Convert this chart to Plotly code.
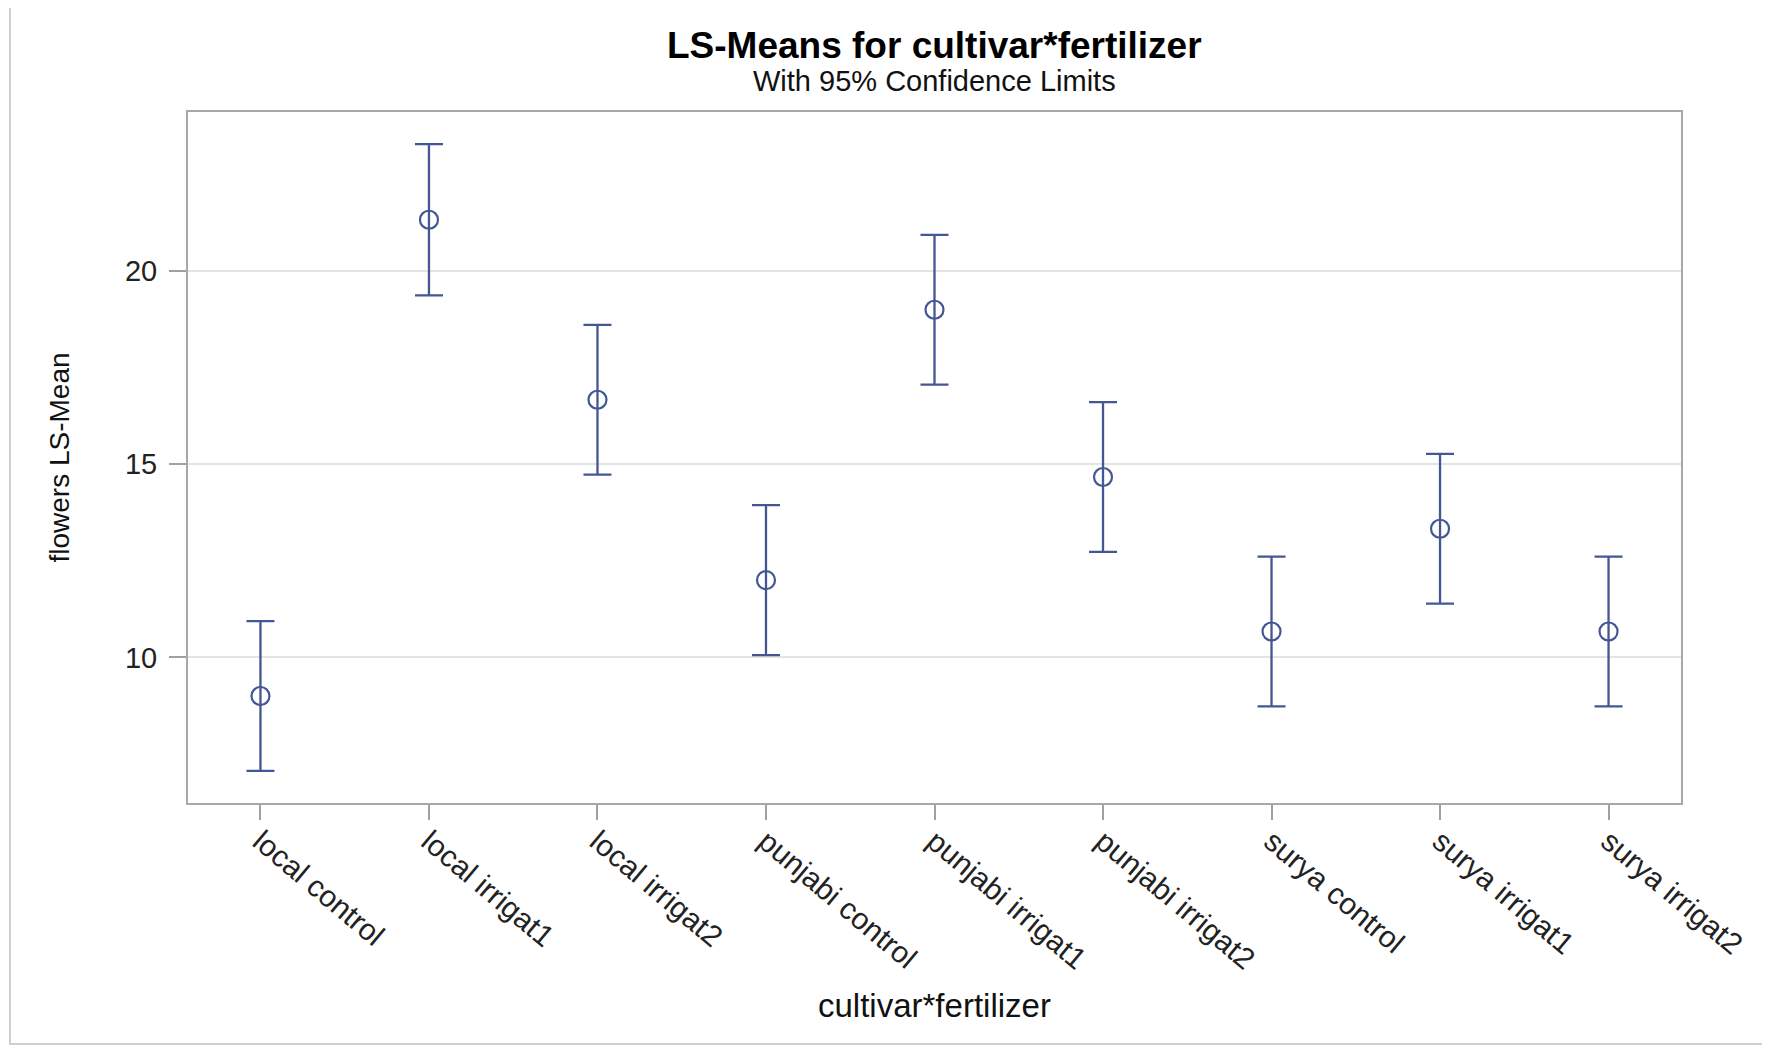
import plotly.graph_objects as go

categories = ["local control", "local irrigat1", "local irrigat2",
              "punjabi control", "punjabi irrigat1", "punjabi irrigat2",
              "surya control", "surya irrigat1", "surya irrigat2"]
ls_means = [9.0, 21.33, 16.67, 12.0, 19.0, 14.67, 10.67, 13.33, 10.67]
lower_cl = [7.06, 19.37, 14.73, 10.06, 17.06, 12.73, 8.73, 11.39, 8.73]
upper_cl = [10.94, 23.29, 18.61, 13.94, 20.94, 16.61, 12.61, 15.27, 12.61]
y_ticks = [10, 15, 20]

BLUE = "#445694"
FONT = "Liberation Sans"

err_plus = [u - m for u, m in zip(upper_cl, ls_means)]
err_minus = [m - l for m, l in zip(ls_means, lower_cl)]

fig = go.Figure()
fig.add_trace(go.Scatter(
    x=list(range(len(categories))), y=ls_means, mode="markers",
    marker=dict(symbol="circle-open", size=18, color=BLUE, line=dict(width=2.2, color=BLUE)),
    error_y=dict(type="data", symmetric=False, array=err_plus, arrayminus=err_minus,
                 color=BLUE, thickness=2.3, width=14),
    showlegend=False,
))

OFF = 8  # page body margin
W, H = 1770, 1047
L, R, T, B = 188 - OFF, 1770 - 1681 + OFF, 112 - OFF, 1047 - 803 + OFF
pw, ph = W - L - R, H - T - B

def px_x(px):
    return (px - OFF - L) / pw

def px_y(py):
    return (H - B - (py - OFF)) / ph

fig.update_layout(
    width=W, height=H,
    margin=dict(l=L, r=R, t=T, b=B, autoexpand=False),
    paper_bgcolor="white", plot_bgcolor="white",
    font=dict(family=FONT, color="#222"),
    xaxis=dict(
        range=[-0.43, 8.43], tickmode="array",
        tickvals=list(range(len(categories))), ticktext=categories,
        tickangle=40, tickfont=dict(size=30, color="#222", family=FONT),
        ticks="outside", ticklen=15, tickcolor="#a0a0a0", tickwidth=1.5,
        showgrid=False, zeroline=False,
        showline=True, linecolor="#a8a8a8", linewidth=2, mirror=True,
        ticklabelstandoff=-8,
    ),
    yaxis=dict(
        range=[6.23, 24.12], tickmode="array", tickvals=y_ticks,
        ticktext=[str(v) for v in y_ticks],
        tickfont=dict(size=29, color="#222", family=FONT),
        ticks="outside", ticklen=17, tickcolor="#a0a0a0", tickwidth=1.5,
        showgrid=True, gridcolor="#e4e4e4", gridwidth=1.5, zeroline=False,
        showline=True, linecolor="#a8a8a8", linewidth=2, mirror=True,
        ticklabelstandoff=6,
    ),
    annotations=[
        dict(text="<b>LS-Means for cultivar*fertilizer</b>", xref="paper", yref="paper",
             x=0.5, y=px_y(46), xanchor="center", yanchor="middle", showarrow=False,
             font=dict(size=37, color="black", family=FONT)),
        dict(text="With 95% Confidence Limits", xref="paper", yref="paper",
             x=0.5, y=px_y(81), xanchor="center", yanchor="middle", showarrow=False,
             font=dict(size=29, color="#111", family=FONT)),
        dict(text="cultivar*fertilizer", xref="paper", yref="paper",
             x=0.5, y=px_y(1005), xanchor="center", yanchor="middle", showarrow=False,
             font=dict(size=33, color="#111", family=FONT)),
        dict(text="flowers LS-Mean", xref="paper", yref="paper", textangle=-90,
             x=px_x(59), y=0.5, xanchor="center", yanchor="middle", showarrow=False,
             font=dict(size=28, color="#111", family=FONT)),
    ],
    shapes=[
        dict(type="rect", xref="paper", yref="paper",
             x0=px_x(10), x1=px_x(1800), y0=px_y(1044), y1=px_y(4),
             line=dict(color="#cfcfcf", width=2), fillcolor="rgba(0,0,0,0)", layer="below"),
    ],
)

fig.write_html("out.html")
